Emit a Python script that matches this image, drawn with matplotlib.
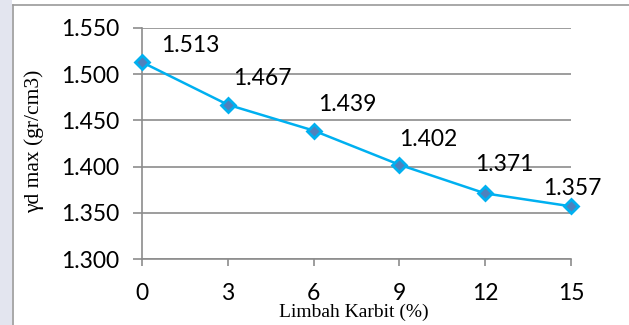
import matplotlib
matplotlib.use("Agg")
import matplotlib.pyplot as plt
from matplotlib.lines import Line2D
from matplotlib.patches import Rectangle

# Data
limbah_karbit = [0, 3, 6, 9, 12, 15]
gamma_d_max = [1.513, 1.467, 1.439, 1.402, 1.371, 1.357]
y_ticks = [1.300, 1.350, 1.400, 1.450, 1.500, 1.550]

# label offsets (points) for each data label
label_offsets = [(35, 12), (25, 19), (24, 19), (21, 18), (14, 21), (1, 13)]

grid_col = "#8c8c8c"
line_col = "#00B0F0"
fill_col = "#4F81BD"

fig = plt.figure(figsize=(6.29, 3.25), dpi=100, facecolor="white")

# frame around the chart area
fig.patches.append(Rectangle((0, 0), 12 / 629, 1, transform=fig.transFigure,
                             facecolor="#e3e5ef", edgecolor="none", zorder=0))
fig.lines.append(Line2D([13 / 629, 13 / 629], [0, 1 - 5 / 325],
                        transform=fig.transFigure, color="#9a9a9a", lw=1.2))
fig.lines.append(Line2D([13 / 629, 1], [1 - 5 / 325, 1 - 5 / 325],
                        transform=fig.transFigure, color="#9a9a9a", lw=1.2))

ax = fig.add_axes([142 / 629, 1 - 259 / 325, 429 / 629, 231 / 325])
ax.set_xlim(0, 15)
ax.set_ylim(1.3, 1.55)
ax.set_xticks(limbah_karbit)
ax.set_yticks(y_ticks)
ax.set_yticklabels([f"{v:.3f}" for v in y_ticks])

ax.yaxis.grid(True, color=grid_col, lw=1.2)
ax.set_axisbelow(True)
for s in ["top", "right"]:
    ax.spines[s].set_visible(False)
for s in ["left", "bottom"]:
    ax.spines[s].set_color(grid_col)
    ax.spines[s].set_linewidth(1.2)

ax.tick_params(axis="y", length=6.5, width=1.2, color=grid_col, pad=10,
               labelsize=16.5)
ax.tick_params(axis="x", length=5, width=1.2, color=grid_col, pad=12,
               labelsize=16.5)
for lab in ax.get_xticklabels() + ax.get_yticklabels():
    lab.set_family("Lato")

ax.plot(limbah_karbit, gamma_d_max, color=line_col, lw=1.8, marker="D",
        markersize=7, markerfacecolor=fill_col, markeredgecolor=line_col,
        markeredgewidth=2, clip_on=False, zorder=3)

for x, y, (dx, dy) in zip(limbah_karbit, gamma_d_max, label_offsets):
    ax.annotate(f"{y:.3f}", (x, y), xytext=(dx, dy), textcoords="offset points",
                ha="center", va="center", fontsize=16.5, family="Lato")

ax.set_ylabel("γd max (gr/cm3)", family="Liberation Serif", fontsize=15.5)
ax.yaxis.set_label_coords(-0.228, 0.51)
ax.set_xlabel("Limbah Karbit (%)", family="Liberation Serif", fontsize=14)
ax.xaxis.set_label_coords(0.493, -0.232)
ax.xaxis.label.set_va("center")

fig.savefig("out.png", dpi=100)
